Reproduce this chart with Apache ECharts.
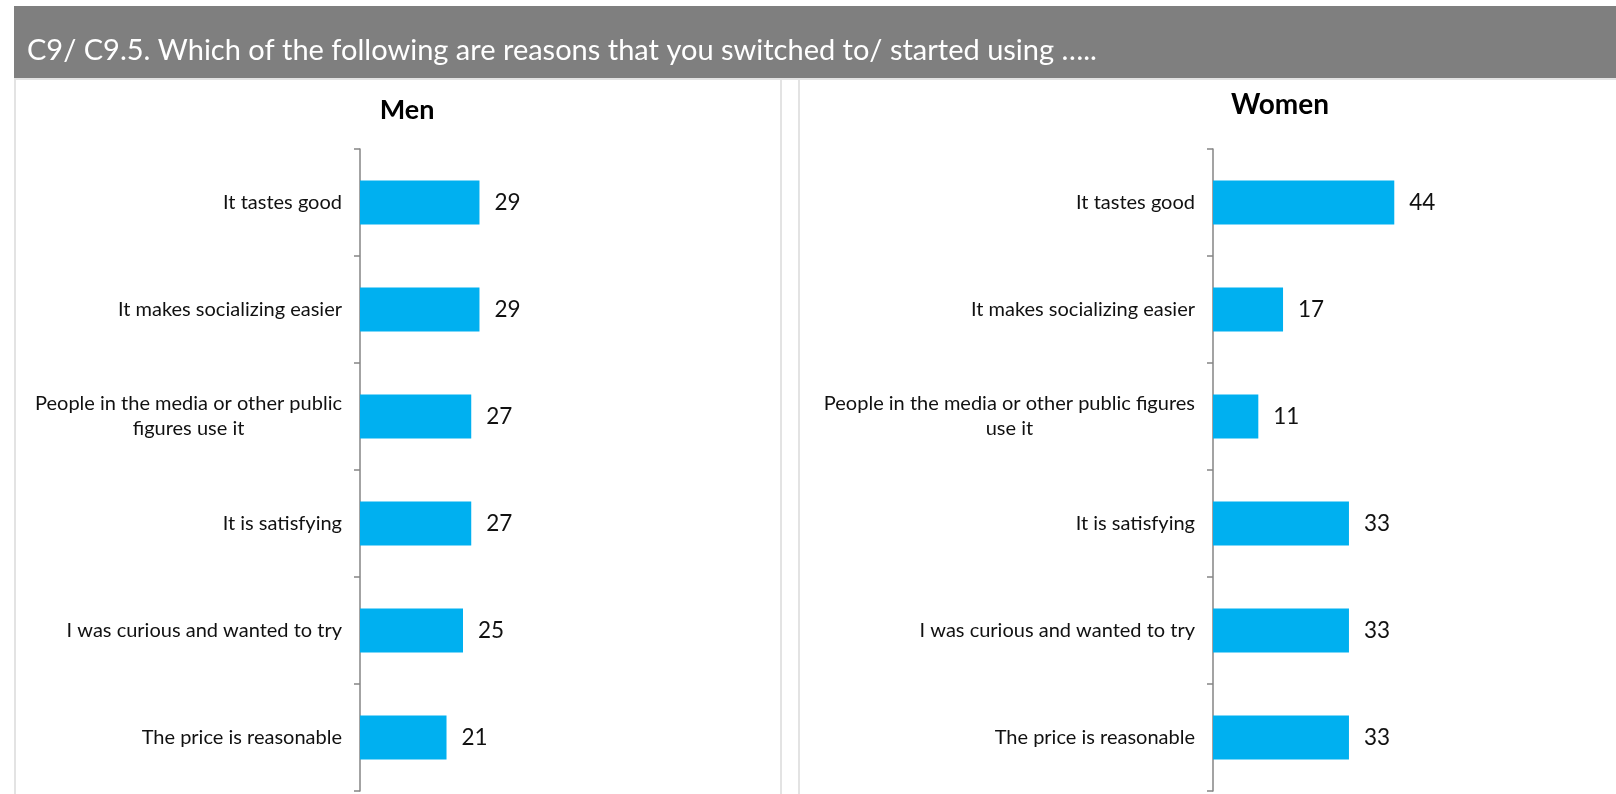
<!DOCTYPE html>
<html>
<head>
<meta charset="utf-8">
<script src="https://cdn.jsdelivr.net/npm/echarts@6/dist/echarts.min.js"></script>
<style>
html,body{margin:0;padding:0;background:#fff;}
#chart{width:1616px;height:794px;}
</style>
</head>
<body>
<div id="chart"></div>
<script>
const headerText = 'C9/ C9.5. Which of the following are reasons that you switched to/ started using …..';
const menTitle = 'Men';
const womenTitle = 'Women';
const menCategories = [
  'It tastes good',
  'It makes socializing easier',
  'People in the media or other public\nfigures use it',
  'It is satisfying',
  'I was curious and wanted to try',
  'The price is reasonable'
];
const womenCategories = [
  'It tastes good',
  'It makes socializing easier',
  'People in the media or other public figures\nuse it',
  'It is satisfying',
  'I was curious and wanted to try',
  'The price is reasonable'
];
const menValues = [29, 29, 27, 27, 25, 21];
const womenValues = [44, 17, 11, 33, 33, 33];

const BAR = '#00B0F0';
const AXIS = '#858585';
const FONT = 'Lato';
const GRID_TOP = 149, GRID_H = 642, XMAX = 50, XW = 206;

function catLabel(v) {
  return v.split('\n').map(s => '{c|' + s + '}').join('\n');
}

function yAxis(idx, cats) {
  return {
    type: 'category', gridIndex: idx, inverse: true, data: cats,
    axisLine: {show: true, lineStyle: {color: AXIS, width: 1.5}},
    axisTick: {show: true, inside: false, length: 6, alignWithLabel: false, lineStyle: {color: AXIS, width: 1.5}},
    axisLabel: {
      margin: 18, formatter: catLabel,
      rich: {c: {fontFamily: FONT, fontSize: 20, color: '#111', align: 'center', lineHeight: 25}}
    }
  };
}
function xAxis(idx) {
  return {type: 'value', gridIndex: idx, min: 0, max: XMAX, show: false, splitLine: {show: false}};
}
function series(idx, vals) {
  return {
    type: 'bar', xAxisIndex: idx, yAxisIndex: idx, data: vals, barWidth: 44,
    itemStyle: {color: BAR},
    label: {show: true, position: 'right', distance: 15, fontFamily: FONT, fontSize: 22.5, color: '#111'},
    silent: true
  };
}

const chart = echarts.init(document.getElementById('chart'), null, {renderer: 'canvas'});
chart.setOption({
  animation: false,
  backgroundColor: '#fff',
  graphic: [
    {type: 'rect', shape: {x: 14, y: 6, width: 1602, height: 72}, style: {fill: '#7F7F7F'}, z: 0},
    {type: 'rect', shape: {x: 14, y: 78, width: 1602, height: 2}, style: {fill: '#E3E3E3'}, z: 0},
    {type: 'rect', shape: {x: 14, y: 78, width: 2, height: 716}, style: {fill: '#E3E3E3'}, z: 0},
    {type: 'rect', shape: {x: 780, y: 78, width: 2, height: 716}, style: {fill: '#E3E3E3'}, z: 0},
    {type: 'rect', shape: {x: 798, y: 78, width: 2, height: 716}, style: {fill: '#E3E3E3'}, z: 0}
  ],
  title: [
    {text: headerText, left: 22, top: 46, textVerticalAlign: 'middle',
     textStyle: {fontFamily: FONT, fontWeight: 'normal', fontSize: 29, color: '#FFFFFF'}},
    {text: menTitle, left: 402, top: 105, textAlign: 'center', textVerticalAlign: 'middle',
     textStyle: {fontFamily: FONT, fontWeight: 'bold', fontSize: 27, color: '#000'}},
    {text: womenTitle, left: 1275, top: 100, textAlign: 'center', textVerticalAlign: 'middle',
     textStyle: {fontFamily: FONT, fontWeight: 'bold', fontSize: 28, color: '#000'}}
  ],
  grid: [
    {left: 360, top: GRID_TOP, width: XW, height: GRID_H, containLabel: false},
    {left: 1213, top: GRID_TOP, width: XW, height: GRID_H, containLabel: false}
  ],
  xAxis: [xAxis(0), xAxis(1)],
  yAxis: [yAxis(0, menCategories), yAxis(1, womenCategories)],
  series: [series(0, menValues), series(1, womenValues)]
});
</script>
</body>
</html>
